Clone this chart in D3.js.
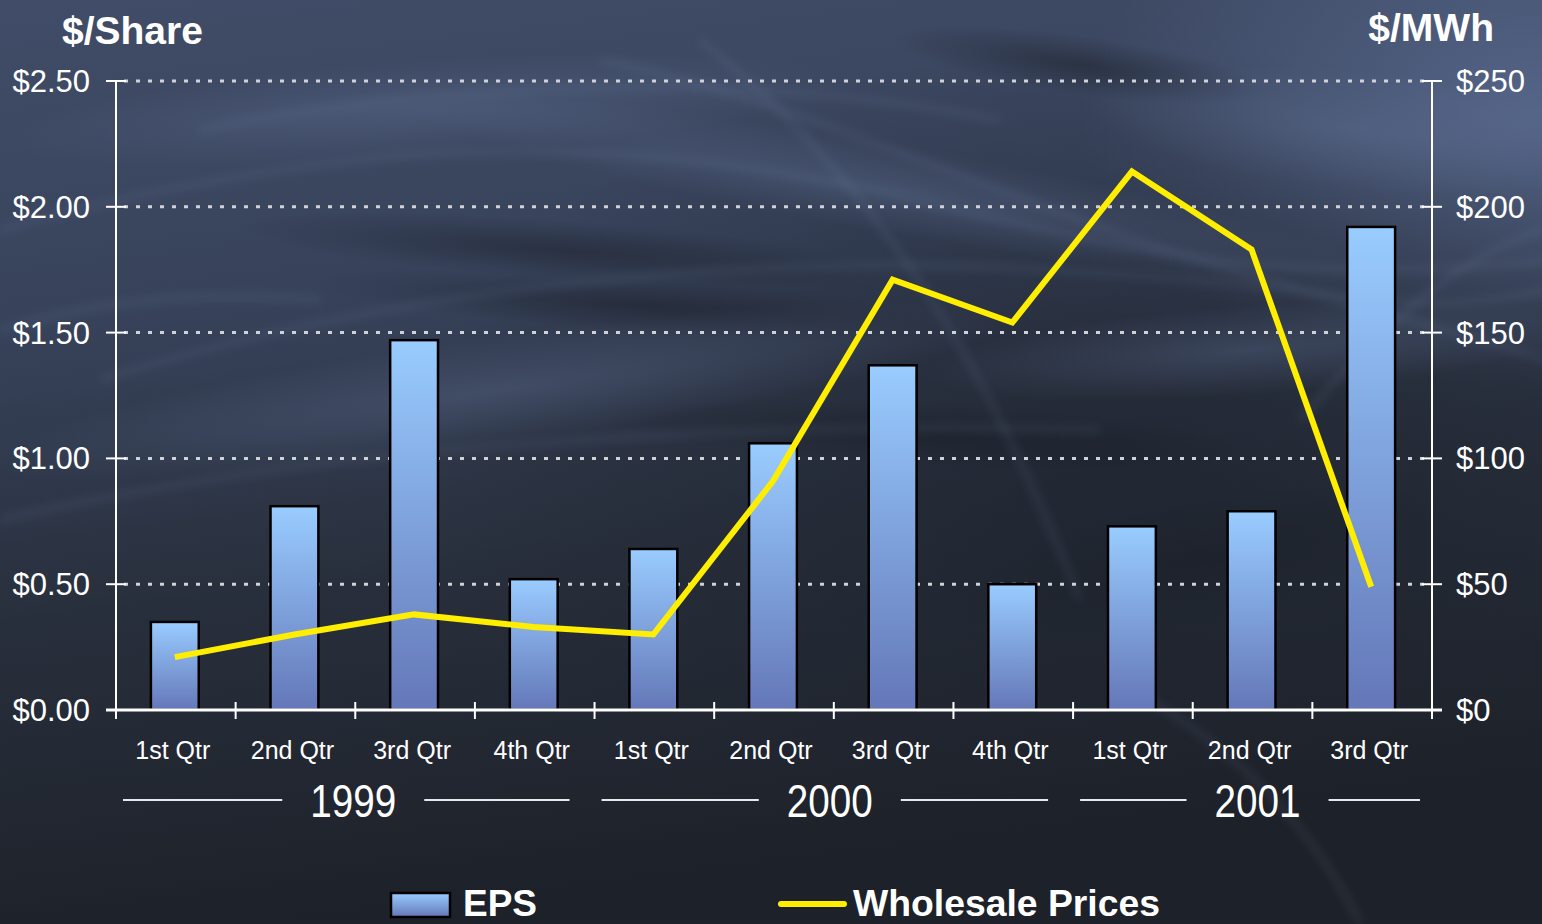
<!DOCTYPE html>
<html>
<head>
<meta charset="utf-8">
<script src="https://cdn.jsdelivr.net/npm/d3@7/dist/d3.min.js"></script>
<style>
  html, body { margin: 0; padding: 0; background: #1f242d; overflow: hidden; }
  svg { display: block; }
  text { font-family: "Liberation Sans", Arial, sans-serif; fill: #ffffff; }
</style>
</head>
<body>
<svg id="chart" width="1542" height="924"></svg>
<script>
// Quarterly earnings per share vs. wholesale power prices
const quarters = ["1st Qtr", "2nd Qtr", "3rd Qtr", "4th Qtr",
                  "1st Qtr", "2nd Qtr", "3rd Qtr", "4th Qtr",
                  "1st Qtr", "2nd Qtr", "3rd Qtr"];
const years = ["1999", "2000", "2001"];
const yearOfQuarter = [0, 0, 0, 0, 1, 1, 1, 1, 2, 2, 2];
const eps = [0.35, 0.81, 1.47, 0.52, 0.64, 1.06, 1.37, 0.50, 0.73, 0.79, 1.92];
const wholesale = [21, 30, 38, 33, 30, 91, 171, 154, 214, 183, 49];
const epsTicks = [0, 0.5, 1.0, 1.5, 2.0, 2.5];
const priceTicks = [0, 50, 100, 150, 200, 250];

const W = 1542, H = 924;
const margin = { left: 116, right: 110, top: 81, bottom: 214 };
const svg = d3.select("#chart");
const defs = svg.append("defs");

// ---------- backdrop: dark slate with soft feathery streaks ----------
const bg = defs.append("linearGradient").attr("id", "bgGrad")
  .attr("x1", 0).attr("y1", 0).attr("x2", 0.2).attr("y2", 1);
bg.append("stop").attr("offset", "0%").attr("stop-color", "#414d68");
bg.append("stop").attr("offset", "35%").attr("stop-color", "#37425a");
bg.append("stop").attr("offset", "65%").attr("stop-color", "#282f3c");
bg.append("stop").attr("offset", "100%").attr("stop-color", "#1d2129");

const glow = defs.append("radialGradient").attr("id", "glowTR")
  .attr("cx", 1).attr("cy", 0.12).attr("r", 0.3);
glow.append("stop").attr("offset", "0%").attr("stop-color", "#5a6b90").attr("stop-opacity", 0.85);
glow.append("stop").attr("offset", "100%").attr("stop-color", "#5a6b90").attr("stop-opacity", 0);

const shade = defs.append("radialGradient").attr("id", "shadeMid")
  .attr("cx", 0.72).attr("cy", 0.5).attr("r", 0.45);
shade.append("stop").attr("offset", "0%").attr("stop-color", "#1c212b").attr("stop-opacity", 0.6);
shade.append("stop").attr("offset", "100%").attr("stop-color", "#1c212b").attr("stop-opacity", 0);

// soft dark patch: radial fade stretched by the ellipse it fills
const patch = defs.append("radialGradient").attr("id", "darkPatch");
patch.append("stop").attr("offset", "0%").attr("stop-color", "#181c24").attr("stop-opacity", 0.45);
patch.append("stop").attr("offset", "100%").attr("stop-color", "#181c24").attr("stop-opacity", 0);

// blur filter covers the whole canvas so soft edges are never clipped
defs.append("filter").attr("id", "soft")
  .attr("filterUnits", "userSpaceOnUse")
  .attr("x", -100).attr("y", -100).attr("width", W + 200).attr("height", H + 200)
  .append("feGaussianBlur").attr("stdDeviation", 5);

const back = svg.append("g");
back.append("rect").attr("width", W).attr("height", H).attr("fill", "url(#bgGrad)");
back.append("rect").attr("width", W).attr("height", H).attr("fill", "url(#glowTR)");
back.append("rect").attr("width", W).attr("height", H).attr("fill", "url(#shadeMid)");

// dark wisps as stretched soft ellipses: [cx, cy, rx, ry, angle]
const darkPatches = [
  [560, 250, 320, 30, 4],
  [640, 305, 330, 28, 4],
  [930, 435, 330, 32, 3],
  [1080, 65, 190, 30, 8],
  [1200, 560, 260, 60, -10]
];
back.append("g").selectAll("ellipse").data(darkPatches).join("ellipse")
  .attr("cx", d => d[0]).attr("cy", d => d[1])
  .attr("rx", d => d[2]).attr("ry", d => d[3])
  .attr("transform", d => `rotate(${d[4]} ${d[0]} ${d[1]})`)
  .attr("fill", "url(#darkPatch)");

// light haze bands
const hazeGrad = defs.append("radialGradient").attr("id", "haze");
hazeGrad.append("stop").attr("offset", "0%").attr("stop-color", "#6a7ca3").attr("stop-opacity", 0.3);
hazeGrad.append("stop").attr("offset", "100%").attr("stop-color", "#6a7ca3").attr("stop-opacity", 0);
const hazePatches = [
  [420, 110, 420, 50, -4],
  [900, 190, 500, 45, 10],
  [500, 390, 520, 55, -8],
  [1250, 350, 330, 45, -4],
  [1350, 130, 260, 60, 6]
];
back.append("g").selectAll("ellipse").data(hazePatches).join("ellipse")
  .attr("cx", d => d[0]).attr("cy", d => d[1])
  .attr("rx", d => d[2]).attr("ry", d => d[3])
  .attr("transform", d => `rotate(${d[4]} ${d[0]} ${d[1]})`)
  .attr("fill", "url(#haze)");

// thin bright filaments
const filaments = [
  "M 0 230 C 250 160, 500 130, 760 170 S 1200 300, 1550 260",
  "M 100 380 C 350 300, 700 250, 1050 270 S 1400 320, 1550 290",
  "M 200 130 C 450 80, 750 70, 1000 120",
  "M 600 60 C 800 100, 1000 200, 1200 260 S 1450 330, 1550 360",
  "M 0 520 C 300 450, 700 420, 1100 430",
  "M 700 40 C 900 200, 1000 400, 1080 600",
  "M 1150 700 C 1250 760, 1320 840, 1360 924",
  "M 0 330 C 100 300, 200 290, 320 300",
  "M 1300 420 C 1380 330, 1450 260, 1542 230"
];
back.append("g").attr("filter", "url(#soft)")
  .selectAll("path").data(filaments).join("path")
  .attr("d", d => d).attr("fill", "none")
  .attr("stroke", "#8496bd").attr("stroke-opacity", 0.2).attr("stroke-width", 4);

// ---------- scales ----------
const x = d3.scaleBand()
  .domain(d3.range(quarters.length))
  .range([margin.left, W - margin.right])
  .paddingInner(0).paddingOuter(0);
const yL = d3.scaleLinear().domain([0, 2.5]).range([H - margin.bottom, margin.top]);
const yR = d3.scaleLinear().domain([0, 250]).range([H - margin.bottom, margin.top]);
const x0 = margin.left, x1 = W - margin.right;
const yBase = yL(0);

// ---------- gridlines ----------
svg.append("g").selectAll("line").data(epsTicks.filter(d => d > 0)).join("line")
  .attr("x1", x0 + 8).attr("x2", x1 - 8)
  .attr("y1", d => yL(d)).attr("y2", d => yL(d))
  .attr("stroke", "#cfd2d6").attr("stroke-width", 3)
  .attr("stroke-dasharray", "4 8");

// ---------- bars ----------
const barW = x.bandwidth() * 0.4;
eps.forEach((v, i) => {
  const g = defs.append("linearGradient").attr("id", "bar" + i)
    .attr("x1", 0).attr("y1", 0).attr("x2", 0).attr("y2", 1);
  g.append("stop").attr("offset", "0%").attr("stop-color", "#99ccff");
  g.append("stop").attr("offset", "100%").attr("stop-color", "#6477b8");
});
svg.append("g").selectAll("rect").data(eps).join("rect")
  .attr("x", (d, i) => x(i) + (x.bandwidth() - barW) / 2 - 1)
  .attr("y", d => yL(d))
  .attr("width", barW)
  .attr("height", d => yBase - yL(d))
  .attr("fill", (d, i) => `url(#bar${i})`)
  .attr("stroke", "#000").attr("stroke-width", 2.5);

// ---------- axes ----------
const axisColor = "#ffffff";
const axes = svg.append("g");
axes.append("line").attr("x1", x0).attr("x2", x0).attr("y1", yL(2.5)).attr("y2", yBase)
  .attr("stroke", axisColor).attr("stroke-width", 2);
axes.append("line").attr("x1", x1).attr("x2", x1).attr("y1", yR(250)).attr("y2", yBase)
  .attr("stroke", axisColor).attr("stroke-width", 2);
axes.append("line").attr("x1", x0 - 10).attr("x2", x1 + 10).attr("y1", yBase).attr("y2", yBase)
  .attr("stroke", axisColor).attr("stroke-width", 3);

// left ticks + labels
axes.selectAll(".lt").data(epsTicks).join("line")
  .attr("x1", x0 - 10).attr("x2", x0 + 10)
  .attr("y1", d => yL(d)).attr("y2", d => yL(d))
  .attr("stroke", axisColor).attr("stroke-width", 2);
axes.selectAll(".ll").data(epsTicks).join("text")
  .attr("x", 90).attr("y", d => yL(d) + 11)
  .attr("text-anchor", "end")
  .attr("font-size", 31)
  .text(d => "$" + d3.format(".2f")(d));

// right ticks + labels
axes.selectAll(".rt").data(priceTicks).join("line")
  .attr("x1", x1 - 10).attr("x2", x1 + 10)
  .attr("y1", d => yR(d)).attr("y2", d => yR(d))
  .attr("stroke", axisColor).attr("stroke-width", 2);
axes.selectAll(".rl").data(priceTicks).join("text")
  .attr("x", 1456).attr("y", d => yR(d) + 11)
  .attr("text-anchor", "start")
  .attr("font-size", 31)
  .text(d => "$" + d);

// bottom ticks at quarter boundaries
const bounds = d3.range(quarters.length + 1).map(i => i < quarters.length ? x(i) : x1);
axes.selectAll(".bt").data(bounds).join("line")
  .attr("x1", d => d).attr("x2", d => d)
  .attr("y1", yBase - 8).attr("y2", yBase + 9)
  .attr("stroke", axisColor).attr("stroke-width", 2);

// quarter labels
axes.selectAll(".ql").data(quarters).join("text")
  .attr("x", (d, i) => x(i) + x.bandwidth() / 2 - 3)
  .attr("y", 759)
  .attr("text-anchor", "middle")
  .attr("font-size", 25)
  .attr("fill", "#eef0f4")
  .text(d => d);

// year labels with rules on both sides
const yearShift = [-2, -4, 5];
years.forEach((yr, k) => {
  const idx = yearOfQuarter.map((v, i) => v === k ? i : -1).filter(i => i >= 0);
  const gx0 = x(idx[0]);
  const gx1 = x(idx[idx.length - 1]) + x.bandwidth();
  const cx = (gx0 + gx1) / 2 + yearShift[k];
  const half = 43, gap = 28;
  axes.append("text")
    .attr("x", cx).attr("y", 817)
    .attr("text-anchor", "middle")
    .attr("font-size", 46)
    .attr("textLength", 86).attr("lengthAdjust", "spacingAndGlyphs")
    .attr("fill", "#f2f3f5")
    .text(yr);
  axes.append("line")
    .attr("x1", gx0 + 7).attr("x2", cx - half - gap)
    .attr("y1", 800).attr("y2", 800)
    .attr("stroke", "#e6e8ec").attr("stroke-width", 2);
  axes.append("line")
    .attr("x1", cx + half + gap).attr("x2", k === years.length - 1 ? gx1 - 12 : gx1 - 25)
    .attr("y1", 800).attr("y2", 800)
    .attr("stroke", "#e6e8ec").attr("stroke-width", 2);
});

// ---------- wholesale price line ----------
const line = d3.line()
  .x((d, i) => x(i) + x.bandwidth() / 2 - 1)
  .y(d => yR(d));
svg.append("path").datum(wholesale)
  .attr("d", line)
  .attr("fill", "none")
  .attr("stroke", "#ffee00")
  .attr("stroke-width", 6)
  .attr("stroke-linejoin", "miter")
  .attr("stroke-linecap", "butt");

// ---------- axis titles ----------
svg.append("text").attr("x", 62).attr("y", 44)
  .attr("font-size", 39).attr("font-weight", "bold").text("$/Share");
svg.append("text").attr("x", 1494).attr("y", 41)
  .attr("text-anchor", "end")
  .attr("font-size", 39).attr("font-weight", "bold").text("$/MWh");

// ---------- legend ----------
const legend = svg.append("g");
const swGrad = defs.append("linearGradient").attr("id", "swGrad")
  .attr("x1", 0).attr("y1", 0).attr("x2", 0).attr("y2", 1);
swGrad.append("stop").attr("offset", "0%").attr("stop-color", "#99ccff");
swGrad.append("stop").attr("offset", "100%").attr("stop-color", "#6477b8");
legend.append("rect").attr("x", 391).attr("y", 893).attr("width", 59).attr("height", 24)
  .attr("fill", "url(#swGrad)").attr("stroke", "#000").attr("stroke-width", 2.5);
legend.append("text").attr("x", 463).attr("y", 916)
  .attr("font-size", 36).attr("font-weight", "bold")
  .attr("textLength", 74).attr("lengthAdjust", "spacingAndGlyphs")
  .text("EPS");
legend.append("line").attr("x1", 781).attr("x2", 844).attr("y1", 904).attr("y2", 904)
  .attr("stroke", "#ffee00").attr("stroke-width", 6).attr("stroke-linecap", "round");
legend.append("text").attr("x", 853).attr("y", 916)
  .attr("font-size", 36).attr("font-weight", "bold")
  .attr("textLength", 307).attr("lengthAdjust", "spacingAndGlyphs")
  .text("Wholesale Prices");
</script>
</body>
</html>
